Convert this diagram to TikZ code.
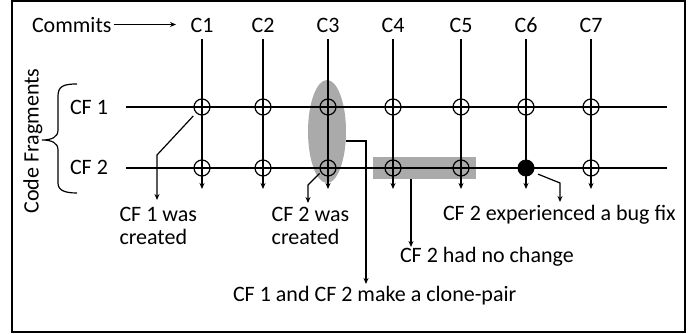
\documentclass[tikz,border=0pt]{standalone}
\usepackage{fontspec}
\setmainfont{Carlito}
\usetikzlibrary{arrows.meta,shapes.geometric,calc}
\definecolor{shadegray}{RGB}{170,170,170}
\begin{document}
\begin{tikzpicture}[x=1pt,y=-1pt,
  every node/.style={font=\fontsize{22}{22.5}\selectfont, inner sep=0pt, outer sep=0pt},
  ln/.style={line width=1.2pt},
  arr/.style={line width=1.2pt,-{Stealth[length=6pt,width=5pt]}},
  ev/.style={circle,draw,line width=1.2pt,minimum size=16pt},
  evf/.style={circle,fill=black,minimum size=17pt},
  shadebox/.style={fill=shadegray}]
\useasboundingbox (0,0) rectangle (699,334);
\draw[line width=1.5pt] (12,1) rectangle (685,332);

% gray highlights
\node[ellipse, shadebox, minimum width=38pt, minimum height=103pt] (ell) at (327,131.5) {};
\node[rectangle, shadebox, minimum width=103pt, minimum height=22pt] (rect) at (424.5,168) {};

% labels
\node[anchor=base west] (commits) at (32,32.5) {Commits};
\coordinate (ca) at (176,24.5);
\draw[arr] (ca -| commits.east) ++(2,0) -- (ca);

\node[anchor=base west] (cf1) at (70,115) {CF 1};
\node[anchor=base west] (cf2) at (70,175) {CF 2};
\node[anchor=base, rotate=90] (codefrag) at (38.5,141) {Code Fragments};

% brace
\draw[ln] (77,84) .. controls (64,84) and (58,86) .. (58,96) -- (58,130)
  .. controls (58,137) and (52,140) .. (42,140)
  .. controls (52,140) and (58,143) .. (58,150) -- (58,183)
  .. controls (58,190) and (64,193) .. (77,193);

% rows
\coordinate (r1s) at (126,107); \coordinate (r1e) at (667,107);
\coordinate (r2s) at (126,168); \coordinate (r2e) at (667,168);
\draw[ln] (r1s) -- (r1e);
\draw[ln] (r2s) -- (r2e);

% columns
\foreach \i/\x in {1/202,2/263,3/328,4/393,5/461,6/526,7/591}{
  \node[anchor=base] (c\i) at (\x,32.5) {C\i};
  \coordinate (b\i) at (\x,189);
  \draw[arr, shorten <=6.5pt] (c\i.south) -- (b\i);
  \node[ev] (p1\i) at (\x,107) {};
}
\foreach \i/\x in {1/202,2/263,3/328,4/393,5/461,7/591}{
  \node[ev] (p2\i) at (\x,168) {};
}
\node[evf] (p26) at (526,168) {};

% annotations
\node[anchor=base west, align=left] (t1) at (119.5,244.2) {CF 1 was\\created};
\node[anchor=base west, align=left] (t3) at (271.7,244.2) {CF 2 was\\created};
\node[anchor=base west] (t6) at (443,220.7) {CF 2 experienced a bug fix};
\node[anchor=base west] (t5) at (400,262.5) {CF 2 had no change};
\node[anchor=base west] (t7) at (233,301.5) {CF 1 and CF 2 make a clone-pair};

\coordinate (a1) at (157,200);
\coordinate (a3) at (308,203);
\coordinate (a6) at (560,202);
\coordinate (a5) at (411,247);
\coordinate (a7) at (366,284);

\draw[arr, shorten <=4.5pt] (p11.225) -- (157,155) -- (a1);
\draw[arr, shorten <=2pt] (p23.210) -- (308,185) -- (a3);
\draw[arr, shorten <=5pt] (p26.-30) -- (560,183) -- (a6);
\draw[arr] (a5 |- rect.south) -- (a5);
\draw[arr] (ell.-27) -| (a7);
\end{tikzpicture}
\end{document}
